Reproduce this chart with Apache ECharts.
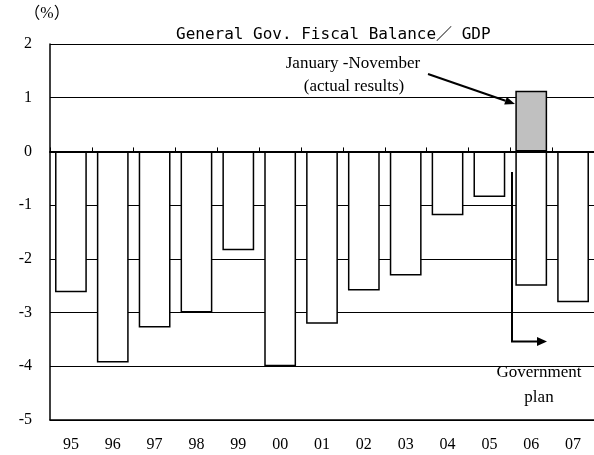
<!DOCTYPE html>
<html>
<head>
<meta charset="utf-8">
<script src="https://cdn.jsdelivr.net/npm/echarts@6/dist/echarts.min.js"></script>
<style>
  html, body { margin: 0; padding: 0; background: #fff; }
  #chart { width: 594px; height: 455px; }
</style>
</head>
<body>
<div id="chart"></div>
<script>
// fiscal years
const years = ["95", "96", "97", "98", "99", "00", "01", "02", "03", "04", "05", "06", "07"];
// general government balance / GDP (%), 06-07 = government plan
const balance = [-2.62, -3.93, -3.28, -3.0, -1.84, -4.0, -3.21, -2.59, -2.31, -1.19, -0.85, -2.5, -2.81];
// January-November actual result for 06
const actual06 = [null, null, null, null, null, null, null, null, null, null, null, 1.13, null];

const serif = "'Liberation Serif', 'DejaVu Serif', serif";

const chart = echarts.init(document.getElementById("chart"), null, { renderer: "canvas" });

chart.setOption({
  animation: false,
  backgroundColor: "#fff",
  title: {
    text: "General Gov. Fiscal Balance／ GDP",
    left: 171,
    top: 22,
    textStyle: {
      fontFamily: "'DejaVu Sans Mono', 'Noto Sans CJK JP', monospace",
      fontWeight: "normal",
      fontSize: 16,
      color: "#000",
    },
  },
  grid: {
    left: 50,
    top: 44,
    width: 546,
    height: 376,
  },
  xAxis: [
    {
      type: "category",
      data: years,
      position: "bottom",
      axisLine: { onZero: false, lineStyle: { color: "#000", width: 1.5 } },
      axisTick: { show: false },
      axisLabel: { fontFamily: serif, fontSize: 16, color: "#000", margin: 17 },
    },
    {
      type: "category",
      data: years,
      position: "top",
      axisLine: { onZero: true, lineStyle: { color: "#000", width: 2 } },
      axisTick: { show: true, inside: false, length: 4, lineStyle: { color: "#000" } },
      axisLabel: { show: false },
    },
  ],
  yAxis: {
    type: "value",
    min: -5,
    max: 2,
    interval: 1,
    axisLine: { show: true, lineStyle: { color: "#000", width: 1.5 } },
    axisTick: { show: false },
    axisLabel: { fontFamily: serif, fontSize: 16, color: "#000", margin: 18 },
    splitLine: { lineStyle: { color: "#000", width: 1.2 } },
  },
  series: [
    {
      type: "bar",
      xAxisIndex: 0,
      data: balance,
      barWidth: "76%",
      itemStyle: { color: "#fff", borderColor: "#000", borderWidth: 1.5 },
      z: 3,
    },
    {
      type: "bar",
      xAxisIndex: 0,
      data: actual06,
      barWidth: "76%",
      barGap: "-100%",
      itemStyle: { color: "#c0c0c0", borderColor: "#000", borderWidth: 1.5 },
      z: 3,
    },
  ],
  graphic: [
    {
      type: "text",
      x: 47,
      y: 14,
      style: {
        text: "（%）",
        font: "16px 'Liberation Serif', 'Noto Sans CJK JP', serif",
        fill: "#000",
        align: "center",
        verticalAlign: "middle",
      },
    },
    {
      type: "text",
      x: 353,
      y: 64,
      style: {
        text: "January -November",
        font: "17px " + serif,
        fill: "#000",
        align: "center",
        verticalAlign: "middle",
      },
    },
    {
      type: "text",
      x: 354,
      y: 87,
      style: {
        text: "(actual results)",
        font: "17px " + serif,
        fill: "#000",
        align: "center",
        verticalAlign: "middle",
      },
    },
    {
      type: "line",
      shape: { x1: 428, y1: 74, x2: 505.5, y2: 100.7 },
      style: { stroke: "#000", lineWidth: 2 },
      z: 10,
    },
    {
      type: "polygon",
      shape: { points: [[515, 104], [504.2, 104.5], [506.8, 96.9]] },
      style: { fill: "#000" },
      z: 10,
    },
    {
      type: "polyline",
      shape: { points: [[512, 172], [512, 341.5], [538, 341.5]] },
      style: { stroke: "#000", lineWidth: 2, fill: null },
      z: 10,
    },
    {
      type: "polygon",
      shape: { points: [[537, 337], [547, 341.5], [537, 346]] },
      style: { fill: "#000" },
      z: 10,
    },
    {
      type: "text",
      x: 539,
      y: 373,
      style: {
        text: "Government",
        font: "17px " + serif,
        fill: "#000",
        align: "center",
        verticalAlign: "middle",
      },
    },
    {
      type: "text",
      x: 539,
      y: 398,
      style: {
        text: "plan",
        font: "17px " + serif,
        fill: "#000",
        align: "center",
        verticalAlign: "middle",
      },
    },
  ],
});
</script>
</body>
</html>
